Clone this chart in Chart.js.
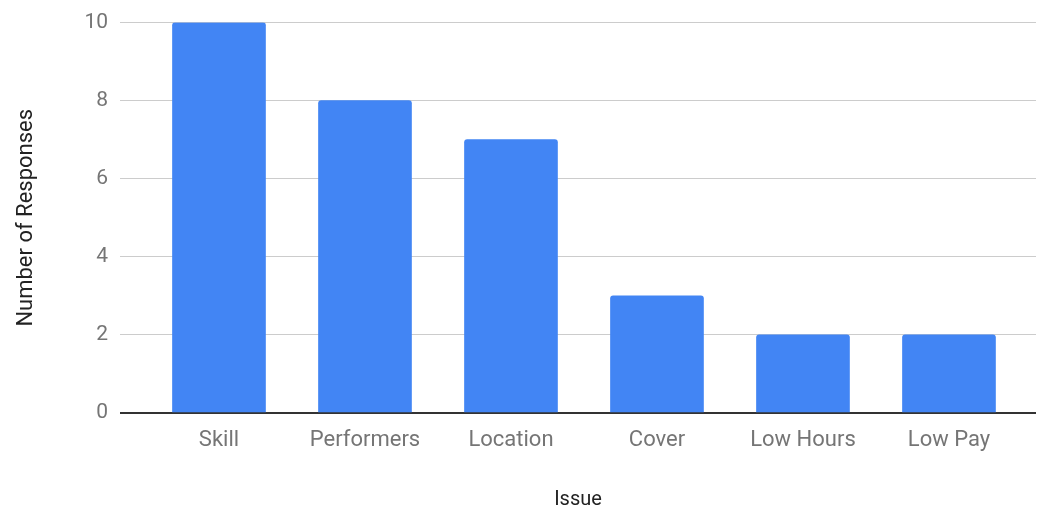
<!DOCTYPE html>
<html>
<head>
<meta charset="utf-8">
<script src="https://cdn.jsdelivr.net/npm/chart.js@4/dist/chart.umd.min.js"></script>
<style>
  html, body { margin: 0; padding: 0; background: #fff; }
  #wrap { width: 1038px; height: 508px; position: relative; }
</style>
</head>
<body>
<div id="wrap"><canvas id="issueChart"></canvas></div>
<script>
// 数据
const issues = ['Skill', 'Performers', 'Location', 'Cover', 'Low Hours', 'Low Pay'];
const responses = [10, 8, 7, 3, 2, 2];
const yTicks = [0, 2, 4, 6, 8, 10];

// 柱子按序号放在线性轴上，两侧留出空白
const points = responses.map((v, i) => ({ x: i, y: v }));

const ctx = document.getElementById('issueChart').getContext('2d');
new Chart(ctx, {
    type: 'bar',
    data: {
        datasets: [{
            label: 'Responses',
            data: points,
            backgroundColor: '#4285f4',
            borderRadius: { topLeft: 3, topRight: 3 },
            borderSkipped: 'bottom',
            barThickness: 93
        }]
    },
    options: {
        responsive: true,
        maintainAspectRatio: false,
        animation: false,
        layout: { padding: { top: 22, right: 2, left: 0, bottom: 0 } },
        plugins: {
            legend: { display: false },
            tooltip: { enabled: false }
        },
        scales: {
            x: {
                type: 'linear',
                offset: false,
                min: -0.678,
                max: 5.596,
                grid: { display: false, offset: false },
                border: { display: false },
                afterBuildTicks: scale => {
                    scale.ticks = issues.map((_, i) => ({ value: i }));
                },
                afterFit: scale => { scale.height = 95; },
                ticks: {
                    padding: 6,
                    autoSkip: false,
                    maxRotation: 0,
                    color: '#757575',
                    font: { family: 'Roboto', size: 22 },
                    callback: value => issues[value]
                },
                title: {
                    display: true,
                    text: 'Issue',
                    color: '#222',
                    font: { family: 'Roboto', size: 20 },
                    padding: { top: 0, bottom: -4 }
                }
            },
            y: {
                min: 0,
                max: 10,
                afterBuildTicks: scale => {
                    scale.ticks = yTicks.map(v => ({ value: v }));
                },
                afterFit: scale => { scale.width = 120; },
                border: { display: false },
                grid: {
                    drawTicks: false,
                    color: c => c.tick && c.tick.value === 0 ? '#333333' : '#cccccc',
                    lineWidth: c => c.tick && c.tick.value === 0 ? 2 : 1
                },
                ticks: {
                    padding: 12,
                    color: '#757575',
                    font: { family: 'Roboto', size: 21, lineHeight: 1 }
                },
                title: {
                    display: true,
                    text: 'Number of Responses',
                    color: '#222',
                    font: { family: 'Roboto', size: 22 },
                    padding: { top: 13, bottom: 0 }
                }
            }
        }
    }
});
</script>
</body>
</html>
